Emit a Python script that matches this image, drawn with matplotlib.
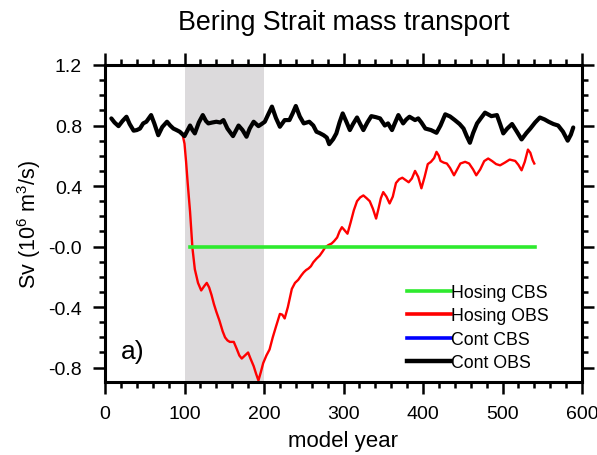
import matplotlib
matplotlib.use("Agg")
import matplotlib.pyplot as plt
from matplotlib.ticker import MultipleLocator, FixedLocator, FixedFormatter
from matplotlib.lines import Line2D

plt.rcParams['font.family'] = ['Liberation Sans', 'DejaVu Sans']
plt.rcParams['mathtext.fontset'] = 'custom'
plt.rcParams['mathtext.rm'] = 'Liberation Sans'
plt.rcParams['mathtext.it'] = 'Liberation Sans:italic'
plt.rcParams['mathtext.bf'] = 'Liberation Sans:bold'

# ---------------- data ----------------
title = "Bering Strait mass transport"
xlabel = "model year"
ylabel = "Sv (10$\\mathregular{^6}$ m$\\mathregular{^3}$/s)"
panel_label = "a)"

hosing_period = [100, 200]

cont_obs_year = [8, 12, 17, 22, 27, 31, 36, 40, 44, 48, 52, 58, 62, 67, 72, 78, 82, 86, 90, 94, 100,
                 104, 107, 110, 113, 118, 123, 127, 130, 135, 140, 145, 149, 154, 161, 164, 168, 173,
                 178, 182, 187, 193, 197, 201, 205, 210, 215, 220, 226, 232, 236, 240, 245, 250, 257,
                 262, 266, 270, 275, 279, 282, 287, 291, 295, 299, 304, 308, 312, 317, 321, 325, 330,
                 335, 341, 346, 352, 356, 361, 365, 369, 375, 379, 383, 390, 394, 398, 403, 410, 417,
                 422, 428, 434, 440, 446, 451, 455, 459, 463, 468, 473, 478, 486, 493, 497, 501, 506,
                 512, 518, 524, 530, 535, 541, 547, 553, 558, 564, 570, 576, 582, 586, 589]
cont_obs = [0.847, 0.82, 0.796, 0.83, 0.858, 0.81, 0.766, 0.77, 0.78, 0.814, 0.825, 0.869, 0.814,
            0.736, 0.79, 0.825, 0.80, 0.78, 0.77, 0.759, 0.73, 0.77, 0.80, 0.77, 0.748, 0.82, 0.869,
            0.83, 0.814, 0.82, 0.825, 0.82, 0.836, 0.78, 0.73, 0.76, 0.80, 0.77, 0.726, 0.78, 0.825,
            0.796, 0.81, 0.825, 0.87, 0.925, 0.85, 0.792, 0.836, 0.836, 0.88, 0.929, 0.86, 0.814,
            0.825, 0.80, 0.759, 0.75, 0.736, 0.72, 0.677, 0.71, 0.748, 0.82, 0.88, 0.82, 0.77, 0.81,
            0.853, 0.81, 0.77, 0.82, 0.862, 0.855, 0.847, 0.80, 0.814, 0.77, 0.82, 0.869, 0.814,
            0.84, 0.858, 0.836, 0.847, 0.82, 0.78, 0.77, 0.752, 0.80, 0.874, 0.86, 0.836, 0.81,
            0.78, 0.73, 0.686, 0.75, 0.814, 0.85, 0.885, 0.862, 0.869, 0.81, 0.748, 0.78, 0.81,
            0.76, 0.708, 0.75, 0.78, 0.82, 0.853, 0.84, 0.825, 0.81, 0.80, 0.76, 0.70, 0.74, 0.787]

hosing_obs_year = [98, 100, 102, 104, 107, 110, 113, 117, 121, 125, 128, 131, 134, 137, 140, 144,
                   148, 151, 154, 157, 162, 166, 169, 172, 176, 180, 183, 187, 190, 193, 196, 199,
                   203, 207, 211, 215, 220, 223, 226, 230, 235, 239, 243, 247, 250, 253, 256, 259,
                   262, 266, 270, 274, 277, 281, 285, 288, 292, 295, 298, 301, 305, 309, 313, 317,
                   321, 325, 329, 333, 337, 341, 344, 347, 350, 354, 358, 362, 366, 370, 374, 378,
                   382, 386, 390, 394, 398, 402, 406, 410, 414, 417, 420, 422, 426, 430, 434, 439,
                   443, 447, 453, 458, 463, 467, 472, 477, 482, 487, 492, 497, 503, 509, 516, 520,
                   524, 528, 532, 535, 538, 540]
hosing_obs = [0.73, 0.68, 0.56, 0.42, 0.23, -0.01, -0.15, -0.24, -0.29, -0.26, -0.24, -0.27, -0.32,
              -0.38, -0.43, -0.49, -0.56, -0.60, -0.62, -0.63, -0.63, -0.68, -0.72, -0.74, -0.72,
              -0.70, -0.74, -0.79, -0.84, -0.885, -0.83, -0.77, -0.72, -0.68, -0.60, -0.53, -0.445,
              -0.45, -0.475, -0.40, -0.28, -0.24, -0.22, -0.19, -0.17, -0.155, -0.145, -0.13,
              -0.104, -0.08, -0.06, -0.03, -0.005, 0.01, 0.02, 0.035, 0.06, 0.10, 0.128, 0.11,
              0.085, 0.16, 0.24, 0.30, 0.325, 0.338, 0.32, 0.30, 0.25, 0.185, 0.25, 0.32, 0.36,
              0.33, 0.285, 0.33, 0.42, 0.445, 0.455, 0.44, 0.425, 0.45, 0.50, 0.46, 0.385, 0.46,
              0.545, 0.56, 0.585, 0.626, 0.60, 0.566, 0.555, 0.549, 0.52, 0.471, 0.51, 0.549,
              0.56, 0.549, 0.51, 0.471, 0.51, 0.565, 0.582, 0.565, 0.545, 0.537, 0.555, 0.575,
              0.566, 0.54, 0.504, 0.56, 0.641, 0.62, 0.57, 0.549]

hosing_cbs_year = [107, 541]
hosing_cbs = [0.0, 0.0]

legend_labels = ["Hosing CBS", "Hosing OBS", "Cont CBS", "Cont OBS"]
legend_colors = ["#2eea2e", "#ff0000", "#0000ff", "#000000"]

xticks = [0, 100, 200, 300, 400, 500, 600]
yticks = [1.2, 0.8, 0.4, 0.0, -0.4, -0.8]
ytick_labels = ["1.2", "0.8", "0.4", "-0.0", "-0.4", "-0.8"]

# ---------------- plot ----------------
fig = plt.figure(figsize=(5.97, 4.56), dpi=100)
ax = fig.add_axes([105/597, 1-383/456, 477/597, 317/456])

ax.axvspan(hosing_period[0], hosing_period[1], color="#dcdadc", lw=0, zorder=0)
ax.plot(cont_obs_year, cont_obs, color=legend_colors[3], lw=3.0, zorder=3,
        solid_joinstyle='round', solid_capstyle='round')
ax.plot(hosing_obs_year, hosing_obs, color=legend_colors[1], lw=1.7, zorder=2,
        solid_joinstyle='round')
ax.plot(hosing_cbs_year, hosing_cbs, color=legend_colors[0], lw=2.6, zorder=2)

ax.set_xlim(0, 600)
ax.set_ylim(-0.895, 1.2)
ax.xaxis.set_major_locator(FixedLocator(xticks))
ax.xaxis.set_minor_locator(MultipleLocator(20))
ax.yaxis.set_major_locator(FixedLocator(yticks))
ax.yaxis.set_major_formatter(FixedFormatter(ytick_labels))
ax.yaxis.set_minor_locator(MultipleLocator(0.1))

ax.tick_params(which='both', direction='out', top=True, right=True, width=1.8)
ax.tick_params(which='major', length=8.5, labelsize=14, pad=8)
ax.tick_params(which='minor', length=4)
for s in ax.spines.values():
    s.set_linewidth(2.2)

ax.set_xlabel(xlabel, fontsize=16, labelpad=6)
ax.set_ylabel(ylabel, fontsize=15.5, labelpad=4)
fig.text(343.5/597, 1-23/456, title, ha='center', va='center', fontsize=19.3)

ax.text(0.034, 0.098, panel_label, transform=ax.transAxes, fontsize=19, va='center', ha='left')

handles = [Line2D([0], [0], color=c, lw=2.6 if i < 3 else 3.2) for i, c in enumerate(legend_colors)]
ax.legend(handles, legend_labels, frameon=False, loc='upper left',
          bbox_to_anchor=((407-105)/477, (383-285)/317), fontsize=12.8,
          handlelength=2.5, handletextpad=0.0, labelspacing=0.36, borderpad=0, borderaxespad=0)

fig.savefig("out.png", dpi=100)
